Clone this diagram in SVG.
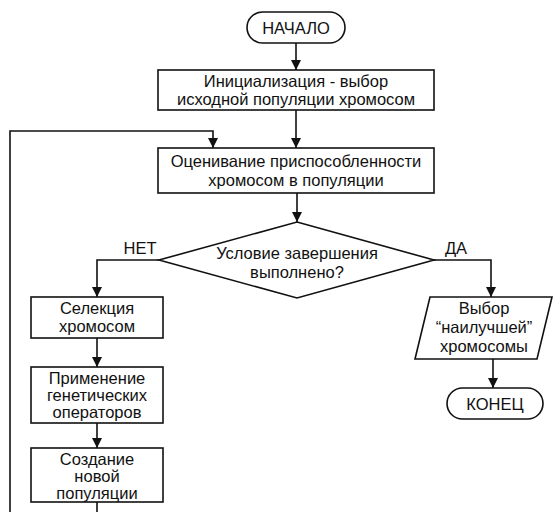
<svg xmlns="http://www.w3.org/2000/svg" width="557" height="512" viewBox="0 0 557 512">
<style>
.s{fill:#fff;stroke:#111;stroke-width:1.6}
.c{fill:none;stroke:#111;stroke-width:1.6}
.t{font-family:'Liberation Sans',Arial,sans-serif;font-size:16.5px;fill:#111;text-anchor:middle}
</style>
<defs>
<marker id="a" viewBox="0 0 10 10" refX="10" refY="5" markerWidth="10" markerHeight="10" markerUnits="userSpaceOnUse" orient="auto">
<path d="M0,0 L10,5 L0,10 Z" fill="#111"/>
</marker>
</defs>
<rect width="557" height="512" fill="#fff"/>
<g id="connectors">
<path class="c" d="M296,43 V70" marker-end="url(#a)"/>
<path class="c" d="M296,110 V148" marker-end="url(#a)"/>
<path class="c" d="M97,502 V516 H10 V131 H213 V148" marker-end="url(#a)"/>
<path class="c" d="M297,193 V222" marker-end="url(#a)"/>
<path class="c" d="M159,260 H97 V297" marker-end="url(#a)"/>
<path class="c" d="M434,260 H491 V297" marker-end="url(#a)"/>
<path class="c" d="M97,338 V367" marker-end="url(#a)"/>
<path class="c" d="M97,423 V448" marker-end="url(#a)"/>
<path class="c" d="M493,359 V388" marker-end="url(#a)"/>
<text class="t" x="140" y="254">НЕТ</text>
<text class="t" x="456" y="254">ДА</text>
</g>
<g id="start">
<rect class="s" x="247" y="12" width="98" height="31" rx="15.5"/>
<text class="t" x="296" y="33.5">НАЧАЛО</text>
</g>
<g id="init">
<rect class="s" x="158" y="70" width="276" height="40"/>
<text class="t" x="296" y="87">Инициализация - выбор</text>
<text class="t" x="296" y="105">исходной популяции хромосом</text>
</g>
<g id="eval">
<rect class="s" x="158" y="148" width="276" height="45"/>
<text class="t" x="296" y="167">Оценивание приспособленности</text>
<text class="t" x="296" y="186">хромосом в популяции</text>
</g>
<g id="cond">
<polygon class="s" points="297,222 434,260 297,298 159,260"/>
<text class="t" x="297" y="259">Условие завершения</text>
<text class="t" x="297" y="278">выполнено?</text>
</g>
<g id="select">
<rect class="s" x="31" y="297" width="132" height="41"/>
<text class="t" x="97" y="314">Селекция</text>
<text class="t" x="97" y="332">хромосом</text>
</g>
<g id="apply">
<rect class="s" x="31" y="367" width="132" height="56"/>
<text class="t" x="97" y="384">Применение</text>
<text class="t" x="97" y="401">генетических</text>
<text class="t" x="97" y="418">операторов</text>
</g>
<g id="create">
<rect class="s" x="31" y="448" width="132" height="54"/>
<text class="t" x="97" y="465">Создание</text>
<text class="t" x="97" y="482">новой</text>
<text class="t" x="97" y="499">популяции</text>
</g>
<g id="best">
<polygon class="s" points="430,297 552,297 537,359 415,359"/>
<text class="t" x="484" y="314">Выбор</text>
<text class="t" x="484" y="333">“наилучшей”</text>
<text class="t" x="484" y="352">хромосомы</text>
</g>
<g id="end">
<rect class="s" x="447" y="388" width="96" height="31" rx="15.5"/>
<text class="t" x="495" y="409.5">КОНЕЦ</text>
</g>
</svg>
